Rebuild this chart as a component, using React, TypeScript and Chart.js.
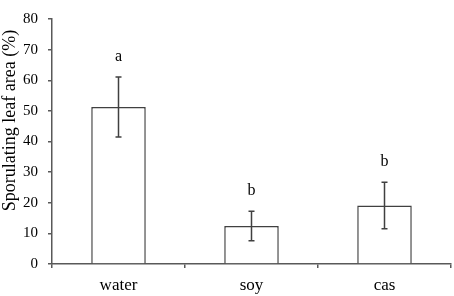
import React, { useEffect, useRef } from "react";
import { Chart, registerables } from "chart.js";

Chart.register(...registerables);

const categories = ["water", "soy", "cas"];
const means = [51.3, 12.4, 19.1];
const errors = [9.8, 4.8, 7.6];
const letters = ["a", "b", "b"];
const yTicks = [0, 10, 20, 30, 40, 50, 60, 70, 80];
const yTitle = "Sporulating leaf area (%)";

const FONT = "'Liberation Serif', 'Times New Roman', serif";
const AXIS = "#595959";
const BAR = "#404040";

const errorBarPlugin = {
  id: "errorBars",
  afterDatasetsDraw(chart: any) {
    const ctx = chart.ctx;
    const meta = chart.getDatasetMeta(0);
    const ys = chart.scales.y;
    ctx.save();
    ctx.strokeStyle = BAR;
    ctx.lineWidth = 1.5;
    meta.data.forEach((bar: any, i: number) => {
      const x = bar.x;
      const top = ys.getPixelForValue(means[i] + errors[i]);
      const bot = ys.getPixelForValue(means[i] - errors[i]);
      ctx.beginPath();
      ctx.moveTo(x, top);
      ctx.lineTo(x, bot);
      ctx.moveTo(x - 3, top);
      ctx.lineTo(x + 3, top);
      ctx.moveTo(x - 3, bot);
      ctx.lineTo(x + 3, bot);
      ctx.stroke();
      ctx.fillStyle = "#000";
      ctx.font = `16px ${FONT}`;
      ctx.textAlign = "center";
      ctx.textBaseline = "alphabetic";
      ctx.fillText(letters[i], x, top - 16);
    });
    ctx.restore();
  },
  afterDraw(chart: any) {
    const ctx = chart.ctx;
    ctx.save();
    ctx.fillStyle = "#000";
    ctx.font = `18px ${FONT}`;
    ctx.textAlign = "center";
    ctx.textBaseline = "alphabetic";
    ctx.translate(15, 120.5);
    ctx.rotate(-Math.PI / 2);
    ctx.fillText(yTitle, 0, 0);
    ctx.restore();
  },
};

export default function App() {
  const ref = useRef<HTMLCanvasElement>(null);
  useEffect(() => {
    if (!ref.current) return;
    const chart = new Chart(ref.current, {
      type: "bar",
      data: {
        labels: categories,
        datasets: [
          {
            data: means,
            backgroundColor: "#ffffff",
            borderColor: BAR,
            borderWidth: 1.5,
            categoryPercentage: 1,
            barPercentage: 0.41,
          },
        ],
      },
      options: {
        responsive: false,
        animation: false,
        layout: { padding: { top: 6, right: 3, left: 0, bottom: 0 } },
        plugins: { legend: { display: false }, tooltip: { enabled: false } },
        scales: {
          x: {
            grid: {
              offset: true,
              drawOnChartArea: false,
              drawTicks: true,
              tickLength: 4,
              color: AXIS,
              lineWidth: 1.5,
            },
            border: { display: true, color: AXIS, width: 1.5 },
            ticks: {
              color: "#000",
              font: { family: FONT, size: 17 },
              padding: 7,
              maxRotation: 0,
            },
            afterFit(scale: any) {
              scale.height = 32;
            },
          },
          y: {
            min: 0,
            max: 80,
            afterBuildTicks(scale: any) {
              scale.ticks = yTicks.map((v) => ({ value: v }));
            },
            grid: {
              drawOnChartArea: false,
              drawTicks: true,
              tickLength: 4,
              color: AXIS,
              lineWidth: 1.5,
            },
            border: { display: true, color: AXIS, width: 1.5 },
            ticks: {
              color: "#000",
              font: { family: FONT, size: 15 },
              padding: 10,
            },
            afterFit(scale: any) {
              scale.width = 52;
            },
          },
        },
      },
      plugins: [errorBarPlugin],
    });
    return () => chart.destroy();
  }, []);
  return (
    <div style={{ position: "fixed", left: 0, top: 0, width: 454, height: 296, background: "#fff" }}>
      <canvas ref={ref} width={454} height={296} />
    </div>
  );
}
